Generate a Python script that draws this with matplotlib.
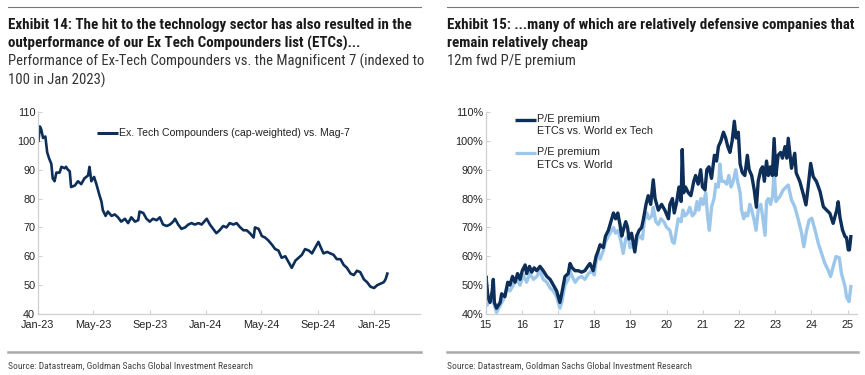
import matplotlib
matplotlib.use("Agg")
import matplotlib.pyplot as plt
import matplotlib.dates as mdates
from matplotlib import font_manager
import pandas as pd

# ---- data: Ex Tech Compounders vs Mag-7 (indexed, Jan 2023 = 100)
etc_dates = ["2023-01-02", "2023-01-05", "2023-01-08", "2023-01-12", "2023-01-17", "2023-01-21",
             "2023-01-25", "2023-01-30", "2023-02-02", "2023-02-06", "2023-02-10", "2023-02-17",
             "2023-02-21", "2023-02-28", "2023-03-03", "2023-03-07", "2023-03-11", "2023-03-14",
             "2023-03-22", "2023-03-29", "2023-04-05", "2023-04-12", "2023-04-20", "2023-04-23",
             "2023-04-27", "2023-05-03", "2023-05-08", "2023-05-15", "2023-05-19", "2023-05-22",
             "2023-05-28", "2023-06-02", "2023-06-10", "2023-06-17", "2023-06-24", "2023-07-01",
             "2023-07-09", "2023-07-16", "2023-07-23", "2023-07-31", "2023-08-07", "2023-08-10",
             "2023-08-18", "2023-08-25", "2023-09-01", "2023-09-08", "2023-09-16", "2023-09-23",
             "2023-09-30", "2023-10-08", "2023-10-15", "2023-10-22", "2023-10-26", "2023-11-02",
             "2023-11-09", "2023-11-17", "2023-11-24", "2023-12-01", "2023-12-08", "2023-12-16",
             "2023-12-23", "2024-01-03", "2024-01-10", "2024-01-17", "2024-01-24", "2024-01-31",
             "2024-02-08", "2024-02-15", "2024-02-22", "2024-03-01", "2024-03-08", "2024-03-16",
             "2024-03-23", "2024-03-30", "2024-04-06", "2024-04-14", "2024-04-17", "2024-04-25",
             "2024-05-02", "2024-05-09", "2024-05-16", "2024-05-24", "2024-05-31", "2024-06-07",
             "2024-06-14", "2024-06-22", "2024-06-29", "2024-07-06", "2024-07-14", "2024-07-21",
             "2024-07-28", "2024-08-04", "2024-08-12", "2024-08-19", "2024-08-26", "2024-09-02",
             "2024-09-06", "2024-09-13", "2024-09-21", "2024-09-28", "2024-10-05", "2024-10-12",
             "2024-10-20", "2024-10-27", "2024-11-03", "2024-11-11", "2024-11-18", "2024-11-25",
             "2024-12-02", "2024-12-10", "2024-12-17", "2024-12-24", "2025-01-01", "2025-01-08",
             "2025-01-15", "2025-01-22", "2025-01-26", "2025-01-30"]
etc_vs_mag7 = [100, 105, 104, 101, 101.5, 96, 94, 92, 87, 86, 89, 89,
               91, 90.5, 91, 90, 89.5, 84, 84.5, 86, 85, 87, 88, 91,
               86, 87.5, 85, 81, 79, 76, 74, 75.5, 74, 74.5, 73.5, 72,
               73, 71.5, 73.5, 72, 72.5, 75.5, 75, 73, 72, 73, 72.5, 73.5,
               71, 70.5, 71, 72, 73, 71, 69.5, 70, 71, 71.5, 71, 71.5,
               71, 73, 71, 69.5, 68, 69, 70.5, 70, 71.5, 71, 71.5, 70,
               69, 69, 68, 66.5, 70, 69.5, 67, 66.5, 65.5, 64, 62.5, 62,
               59.5, 60, 58, 56, 58.5, 59.5, 60.5, 62.5, 62, 61, 63, 65,
               63.5, 61, 61.5, 61, 60.5, 59, 59, 57, 56, 54, 53.5, 55,
               54.5, 52, 51, 49.5, 49, 50, 50.5, 51, 52, 54]
left_ticks = ["2023-01-01", "2023-05-01", "2023-09-01", "2024-01-01",
              "2024-05-01", "2024-09-01", "2025-01-01"]

# ---- data: 12m fwd P/E premium (decimal years)
exw_years = [2015.00, 2015.01, 2015.06, 2015.12, 2015.18, 2015.21, 2015.24, 2015.30, 2015.40, 2015.44,
             2015.53, 2015.61, 2015.67, 2015.74, 2015.81, 2015.88, 2015.95, 2016.01, 2016.09, 2016.13,
             2016.21, 2016.27, 2016.34, 2016.41, 2016.50, 2016.59, 2016.69, 2016.78, 2016.87, 2016.96,
             2017.05, 2017.10, 2017.19, 2017.28, 2017.33, 2017.39, 2017.47, 2017.56, 2017.65, 2017.74,
             2017.82, 2017.88, 2017.97, 2018.05, 2018.11, 2018.16, 2018.25, 2018.31, 2018.39, 2018.46,
             2018.53, 2018.59, 2018.65, 2018.71, 2018.76, 2018.80, 2018.87, 2018.92, 2018.96, 2019.03,
             2019.12, 2019.17, 2019.24, 2019.31, 2019.36, 2019.43, 2019.49, 2019.56, 2019.63, 2019.68,
             2019.77, 2019.86, 2019.95, 2020.05, 2020.09, 2020.16, 2020.21, 2020.28, 2020.34, 2020.40,
             2020.43, 2020.47, 2020.52, 2020.60, 2020.67, 2020.75, 2020.80, 2020.87, 2020.94, 2020.99,
             2021.06, 2021.11, 2021.17, 2021.24, 2021.32, 2021.38, 2021.43, 2021.50, 2021.57, 2021.63,
             2021.69, 2021.75, 2021.81, 2021.87, 2021.92, 2021.98, 2022.03, 2022.09, 2022.16, 2022.23,
             2022.28, 2022.35, 2022.42, 2022.48, 2022.53, 2022.60, 2022.65, 2022.70, 2022.76, 2022.81,
             2022.87, 2022.92, 2022.97, 2023.02, 2023.08, 2023.15, 2023.20, 2023.27, 2023.32, 2023.36,
             2023.45, 2023.54, 2023.58, 2023.68, 2023.77, 2023.85, 2023.91, 2023.98, 2024.05, 2024.14,
             2024.24, 2024.33, 2024.42, 2024.51, 2024.60, 2024.70, 2024.74, 2024.79, 2024.86, 2024.93,
             2024.97, 2025.02, 2025.05, 2025.09]
pe_vs_world_ex_tech = [50, 53, 46, 44, 48, 52, 44, 42, 44, 47,
                       46, 51, 50, 53, 51, 54, 52, 55, 57, 54,
                       56.5, 54.5, 56, 55, 56.5, 55, 53, 52, 50, 48,
                       44, 47, 53, 54, 57.5, 56, 55, 55, 54.5, 55,
                       56.5, 57.5, 55, 60, 62, 64, 63, 67, 69, 72,
                       75, 73, 75, 71, 67, 69, 72, 70, 66, 68,
                       61.5, 67, 69, 70, 73, 78, 81, 78, 86.5, 80,
                       76, 78, 76, 73, 78, 80, 75, 79, 84, 79,
                       97, 82, 84, 82, 81, 86, 88, 85, 90, 84,
                       83, 90, 91, 87, 95, 93, 98, 100, 103, 101,
                       98, 96, 100, 106.8, 101, 103, 92, 89, 88, 95,
                       90, 88, 83, 77, 86, 90, 91, 86, 93, 88,
                       91, 88, 100.8, 88, 95, 96, 94, 98, 94, 100.9,
                       90.5, 95.7, 88.9, 85.9, 81.8, 77.8, 84.1, 92.2, 87.6, 85.9,
                       82.4, 77.2, 76.0, 74.9, 71.4, 76.0, 78.9, 73.4, 69.1, 66.8,
                       66.5, 62.2, 62.2, 66.8]

w_years = [2015.00, 2015.03, 2015.09, 2015.17, 2015.24, 2015.30, 2015.40, 2015.49, 2015.58, 2015.67,
           2015.76, 2015.86, 2015.95, 2016.04, 2016.13, 2016.22, 2016.32, 2016.41, 2016.50, 2016.59,
           2016.69, 2016.78, 2016.87, 2016.96, 2017.05, 2017.10, 2017.19, 2017.28, 2017.33, 2017.39,
           2017.47, 2017.56, 2017.65, 2017.74, 2017.84, 2017.93, 2018.00, 2018.07, 2018.11, 2018.16,
           2018.25, 2018.31, 2018.39, 2018.46, 2018.53, 2018.59, 2018.66, 2018.74, 2018.80, 2018.87,
           2018.94, 2018.99, 2019.05, 2019.12, 2019.19, 2019.26, 2019.33, 2019.38, 2019.45, 2019.51,
           2019.59, 2019.63, 2019.70, 2019.77, 2019.84, 2019.92, 2020.00, 2020.09, 2020.16, 2020.21,
           2020.28, 2020.32, 2020.40, 2020.45, 2020.51, 2020.58, 2020.64, 2020.71, 2020.78, 2020.84,
           2020.89, 2020.95, 2021.01, 2021.08, 2021.13, 2021.18, 2021.24, 2021.31, 2021.36, 2021.43,
           2021.47, 2021.52, 2021.59, 2021.66, 2021.72, 2021.78, 2021.84, 2021.91, 2021.96, 2022.03,
           2022.07, 2022.13, 2022.18, 2022.24, 2022.30, 2022.35, 2022.41, 2022.47, 2022.53, 2022.60,
           2022.65, 2022.72, 2022.76, 2022.81, 2022.87, 2022.93, 2022.97, 2023.02, 2023.08, 2023.13,
           2023.22, 2023.36, 2023.45, 2023.54, 2023.64, 2023.73, 2023.79, 2023.87, 2023.94, 2024.01,
           2024.10, 2024.19, 2024.28, 2024.37, 2024.46, 2024.53, 2024.60, 2024.68, 2024.77, 2024.83,
           2024.93, 2024.97, 2025.04, 2025.09]
pe_vs_world = [47, 43, 44, 46, 43, 40.5, 43, 45, 49, 48,
               50, 52, 50, 53.5, 51, 54, 52, 53, 55, 52,
               51, 49, 48, 46, 42, 44, 50, 52, 55, 53,
               51, 52.5, 53, 52, 54, 55, 53.5, 60, 61, 59,
               62, 65, 67, 68.5, 70, 68, 69, 65, 61, 66,
               67, 63, 64, 62, 66, 67, 66, 72, 75, 73,
               74, 77, 72, 71, 73, 72, 70, 69, 65, 64.5,
               70, 73, 72, 76, 74, 75, 77, 74, 75, 79,
               76, 80, 78, 82, 74, 69, 77, 80, 85, 84,
               92, 86, 86, 85, 88, 84, 86, 90, 86, 82,
               76, 73, 75, 74, 78, 76, 73, 69, 76, 78,
               74, 67.3, 79, 80, 78, 81, 90, 79, 80, 80.7,
               83, 84.7, 79.5, 77.2, 72.6, 68.0, 63.3, 69.1, 72.6, 73.2,
               69.1, 64.5, 61.0, 57.6, 55.3, 53.0, 56.4, 59.9, 59.5, 54.1,
               49.5, 46.0, 44.3, 49.5]
right_ticks = list(range(2015, 2026))
right_tick_labels = ["15", "16", "17", "18", "19", "20", "21", "22", "23", "24", "25"]

DARK = "#0c2e58"
LIGHT = "#9cc6ea"
AXIS_GREY = "#d0d0d0"


def pick_font(names):
    for n in names:
        try:
            font_manager.findfont(n, fallback_to_default=False)
            return n
        except Exception:
            pass
    return "DejaVu Sans"


narrow = pick_font(["Liberation Sans Narrow", "Roboto Condensed", "Roboto", "Liberation Sans"])
plain = pick_font(["Liberation Sans", "Arial", "DejaVu Sans"])
plt.rcParams["font.family"] = plain

fig = plt.figure(figsize=(8.65, 3.75), dpi=100)


def style_axes(ax):
    for s in ["top", "right"]:
        ax.spines[s].set_visible(False)
    for s in ["left", "bottom"]:
        ax.spines[s].set_color(AXIS_GREY)
        ax.spines[s].set_linewidth(0.9)
    ax.tick_params(axis="both", direction="in", length=3, width=0.8, color=AXIS_GREY,
                   labelsize=7.8, labelcolor="#222222")
    ax.tick_params(axis="x", pad=4)
    ax.tick_params(axis="y", pad=2)


# ---- left panel
ax1 = fig.add_axes([38 / 865, 1 - 314 / 375, 382 / 865, 202 / 375])
style_axes(ax1)
ax1.plot(pd.to_datetime(etc_dates), etc_vs_mag7, color=DARK, lw=1.9)
ax1.set_ylim(40, 110)
ax1.set_yticks(range(40, 111, 10))
ax1.set_xlim(pd.Timestamp("2023-01-01"), pd.Timestamp("2025-04-11"))
ax1.set_xticks(pd.to_datetime(left_ticks))
ax1.xaxis.set_major_formatter(mdates.DateFormatter("%b-%y"))
ax1.plot([0.155, 0.21], [0.895, 0.895], color=DARK, lw=2.2, transform=ax1.transAxes,
         clip_on=False, solid_capstyle="butt")
ax1.text(0.212, 0.895, "Ex. Tech Compounders (cap-weighted) vs. Mag-7", transform=ax1.transAxes,
         fontsize=7.6, va="center", ha="left", color="#222222")

# ---- right panel
ax2 = fig.add_axes([485.7 / 865, 1 - 314 / 375, 371.3 / 865, 202 / 375])
style_axes(ax2)
ax2.plot(w_years, pe_vs_world, color=LIGHT, lw=2.4)
ax2.plot(exw_years, pe_vs_world_ex_tech, color=DARK, lw=2.4)
ax2.set_ylim(40, 110)
ax2.set_yticks(range(40, 111, 10))
ax2.set_yticklabels([f"{v}%" for v in range(40, 111, 10)])
ax2.set_xlim(2015, 2025.26)
ax2.set_xticks(right_ticks)
ax2.set_xticklabels(right_tick_labels)
for y, lab, col in [(0.96, ["P/E premium", "ETCs vs. World ex Tech"], DARK),
                    (0.795, ["P/E premium", "ETCs vs. World"], LIGHT)]:
    ax2.plot([0.078, 0.135], [y, y], color=col, lw=2.4, transform=ax2.transAxes,
             clip_on=False, solid_capstyle="butt")
    ax2.text(0.137, y + 0.03, "\n".join(lab), transform=ax2.transAxes, fontsize=7.8,
             va="top", ha="left", color="#222222", linespacing=1.3)


# ---- titles, rules and sources
def px(x, y):
    return x / 865, 1 - y / 375


for x0, x1 in [(8, 421), (447, 858)]:
    fig.add_artist(plt.Line2D([x0 / 865, x1 / 865], [1 - 7 / 375] * 2, color="#777777", lw=0.8))
    fig.add_artist(plt.Line2D([x0 / 865, x1 / 865], [1 - 352 / 375] * 2, color="#aaaaaa", lw=1.8))

title_kw = dict(fontsize=10.8, fontweight="bold", color="#1a1a1a", fontfamily=narrow,
                va="center", ha="left")
sub_kw = dict(fontsize=10.5, color="#333333", fontfamily=narrow, va="center", ha="left")

fig.text(*px(8, 25), "Exhibit 14: The hit to the technology sector has also resulted in the", **title_kw)
fig.text(*px(8, 43), "outperformance of our Ex Tech Compounders list (ETCs)...", **title_kw)
fig.text(*px(8, 61), "Performance of Ex-Tech Compounders vs. the Magnificent 7 (indexed to", **sub_kw)
fig.text(*px(8, 80), "100 in Jan 2023)", **sub_kw)

fig.text(*px(447, 25), "Exhibit 15: ...many of which are relatively defensive companies that", **title_kw)
fig.text(*px(447, 43), "remain relatively cheap", **title_kw)
fig.text(*px(447, 61), "12m fwd P/E premium", **sub_kw)

src_kw = dict(fontsize=6.8, color="#444444", fontfamily=narrow, va="center", ha="left")
fig.text(*px(8, 366), "Source: Datastream, Goldman Sachs Global Investment Research", **src_kw)
fig.text(*px(447, 366), "Source: Datastream, Goldman Sachs Global Investment Research", **src_kw)

fig.savefig("out.png", dpi=100)
